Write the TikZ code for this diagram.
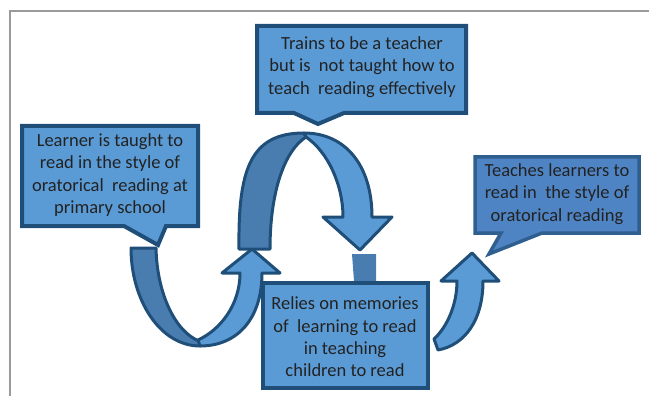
\documentclass[tikz,border=0pt]{standalone}
\usepackage{fontspec}
\setmainfont{Carlito}
\definecolor{edgeblue}{HTML}{1F4E79}
\definecolor{liteblue}{HTML}{5B9BD5}
\definecolor{darkband}{HTML}{4A7DAF}
\definecolor{tfill}{HTML}{4F84C4}
\definecolor{tedge}{HTML}{2E5F8E}
\definecolor{txtgray}{HTML}{222222}
\definecolor{framegray}{HTML}{9A9A9A}
\begin{document}
\begin{tikzpicture}[x=1pt,y=-1pt,
  callout/.style={fill=liteblue,draw=edgeblue,line width=4pt,line join=miter},
  band/.style={draw=edgeblue,line width=3pt,line join=round},
  lbl/.style={align=center,text=txtgray,font=\fontsize{18.5}{22.3}\selectfont,inner sep=0pt}]
\useasboundingbox (0,0) rectangle (649,396);
\draw[framegray,line width=1.2pt] (10,396) -- (10,11) -- (649,11);

% arrow A (U shape)
\filldraw[band,fill=darkband] (131,248) -- (156,248) .. controls (157,295) and (176,332) .. (199,341) -- (200,346) .. controls (160,346) and (131,300) .. (131,248) -- cycle;
\filldraw[band,fill=liteblue] (198,340) .. controls (220,330) and (240,305) .. (240,273) -- (222,273) -- (252,249) -- (280,273) -- (262,273) .. controls (262,318) and (238,346) .. (200,346) -- cycle;

% arrow B (inverted U)
\filldraw[band,fill=darkband] (239,249) -- (270,249) .. controls (270,195) and (283,152) .. (306,137) -- (304,133) .. controls (250,133) and (238,170) .. (239,249) -- cycle;
\filldraw[band,fill=liteblue] (306,137) .. controls (328,152) and (343,185) .. (343,217) -- (323,217) -- (360,250) -- (392,217) -- (372,217) .. controls (372,165) and (345,133) .. (304,133) -- cycle;

% stub
\fill[darkband] (352,254) -- (376,254) -- (376,281) -- (354,281) -- cycle;

% callout boxes
\filldraw[callout] (22,126) -- (198,126) -- (198,226) -- (166,226) -- (158,245) -- (124,226) -- (22,226) -- cycle;
\filldraw[callout] (257,26) -- (466,26) -- (466,113) -- (344,113) -- (318,124) -- (294,113) -- (257,113) -- cycle;
\filldraw[callout,fill=tfill,draw=tedge,line width=3.5pt] (475,157) -- (639,157) -- (639,233) -- (542,233) -- (489,254) -- (501,233) -- (475,233) -- cycle;
\filldraw[callout] (263,283) -- (428,283) -- (428,388) -- (263,388) -- cycle;

% arrow C
\filldraw[band,fill=liteblue] (434,339) .. controls (447,327) and (457,305) .. (457,281) -- (441,281) -- (472,253) -- (499,281) -- (483,281) .. controls (483,320) and (465,345) .. (438,350) -- cycle;

% texts
\node[lbl] (learner) at (110,175) {Learner is taught to\\read in the style of\\oratorical\ \ reading at\\primary school};
\node[lbl] (trains) at (362,67) {Trains to be a teacher\\but is\ \ not taught how to\\teach\ \ reading effectively};
\node[lbl] (teaches) at (557,194) {Teaches learners to\\read in\ \ the style of\\oratorical reading};
\node[lbl] (relies) at (345,337) {Relies on memories\\of\ \ learning to read\\in teaching\\children to read};
\end{tikzpicture}
\end{document}
